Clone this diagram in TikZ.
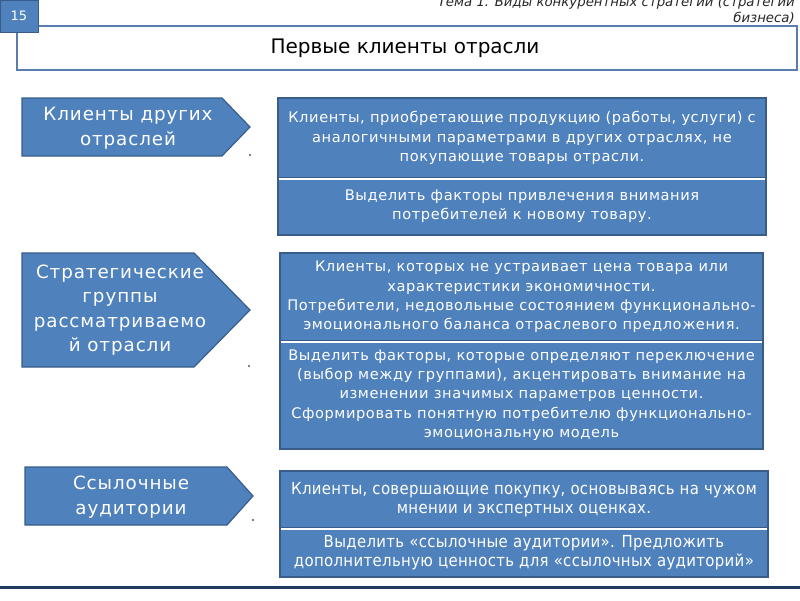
\documentclass[tikz,border=0pt]{standalone}
\usepackage{fontspec}
\setmainfont{DejaVu Sans}
\newfontfamily\condfont[LetterSpace=2]{DejaVu Sans Condensed}
\newfontfamily\spacedfont[LetterSpace=5]{DejaVu Sans}
\newfontfamily\boxfont[LetterSpace=4]{DejaVu Sans}
\definecolor{boxblue}{HTML}{4F81BD}
\definecolor{boxedge}{HTML}{385D8A}
\definecolor{titleedge}{HTML}{5A7DAF}
\definecolor{navyline}{HTML}{1F3A5F}
\definecolor{headgray}{HTML}{262626}
\tikzset{
  arrowshape/.style={fill=boxblue, draw=boxedge, line width=1.2pt, line join=miter},
  arrowtext/.style={text=white, align=center, font=\spacedfont\fontsize{18.3}{24.5}\selectfont, inner sep=0pt},
  infobox/.style={rectangle, fill=boxblue, draw=boxedge, line width=1.2pt, text=white, align=center, inner sep=0pt, font=\boxfont\fontsize{14.6}{19.3}\selectfont},
  infobox3/.style={infobox, font=\condfont\fontsize{16.6}{18.5}\selectfont},
  divider/.style={white, line width=2pt},
  smalldot/.style={circle, fill=black, inner sep=0pt, minimum size=1.6pt},
}
\begin{document}
\begin{tikzpicture}[x=1pt,y=-1pt]
\useasboundingbox (0,0) rectangle (800,600);
% header
\node [anchor=north east, align=right, text=headgray, inner sep=0pt,
  font=\itshape\fontsize{13.3}{16}\selectfont] (theme) at (795,-4)
  {Тема 1. Виды конкурентных стратегий (стратегии\\бизнеса)};
\draw [draw=titleedge, line width=1.5pt, fill=white] (17,26) rectangle (797,70);
\node [font=\fontsize{20}{22}\selectfont] (title) at (405,48) {Первые клиенты отрасли};
\node [rectangle, fill=boxblue, draw=boxedge, line width=1pt, minimum width=38pt,
  minimum height=32pt, text=white, font=\fontsize{13}{15}\selectfont] (slidenum) at (19,16) {15};
% left arrows
\draw [arrowshape] (22,98) -- (222,98) -- (250,127) -- (222,156) -- (22,156) -- cycle;
\node [arrowtext] (other) at (128,128) {Клиенты других\\отраслей};
\draw [arrowshape] (22,253) -- (194,253) -- (250,310) -- (194,367) -- (22,367) -- cycle;
\node [arrowtext] (groups) at (120,310) {Стратегические\\группы\\рассматриваемо\\й отрасли};
\draw [arrowshape] (25,467) -- (227,467) -- (253,496) -- (227,525) -- (25,525) -- cycle;
\node [arrowtext] (refs) at (131,497) {Ссылочные\\аудитории};
\node [smalldot] (dot1) at (250,155) {};
\node [smalldot] (dot2) at (249,366) {};
\node [smalldot] (dot3) at (253,520) {};
% right boxes
\node [infobox, minimum width=488pt, minimum height=80pt] (other top) at (522,138)
  {Клиенты, приобретающие продукцию (работы, услуги) с\\аналогичными параметрами в других отраслях, не\\покупающие товары отрасли.};
\node [infobox, minimum width=488pt, minimum height=57pt] (other bot) at (522,206.5)
  {Выделить факторы привлечения внимания\\потребителей к новому товару.};
\draw [divider] ([xshift=2pt]other top.south west) -- ([xshift=-2pt]other top.south east);
\node [infobox, minimum width=483pt, minimum height=88pt] (groups top) at (521.5,297)
  {Клиенты, которых не устраивает цена товара или\\характеристики экономичности.\\Потребители, недовольные состоянием функционально-\\эмоционального баланса отраслевого предложения.};
\node [infobox, minimum width=483pt, minimum height=108pt] (groups bot) at (521.5,395)
  {Выделить факторы, которые определяют переключение\\(выбор между группами), акцентировать внимание на\\изменении значимых параметров ценности.\\Сформировать понятную потребителю функционально-\\эмоциональную модель};
\draw [divider] ([xshift=2pt]groups top.south west) -- ([xshift=-2pt]groups top.south east);
\node [infobox3, minimum width=488pt, minimum height=57pt] (refs top) at (524,499.5)
  {Клиенты, совершающие покупку, основываясь на чужом\\мнении и экспертных оценках.};
\node [infobox3, minimum width=488pt, minimum height=49pt] (refs bot) at (524,552.5)
  {Выделить «ссылочные аудитории». Предложить\\дополнительную ценность для «ссылочных аудиторий»};
\draw [divider] ([xshift=2pt]refs top.south west) -- ([xshift=-2pt]refs top.south east);
% footer line
\draw [navyline, line width=3pt] (0,587) -- (800,587);
\end{tikzpicture}
\end{document}
